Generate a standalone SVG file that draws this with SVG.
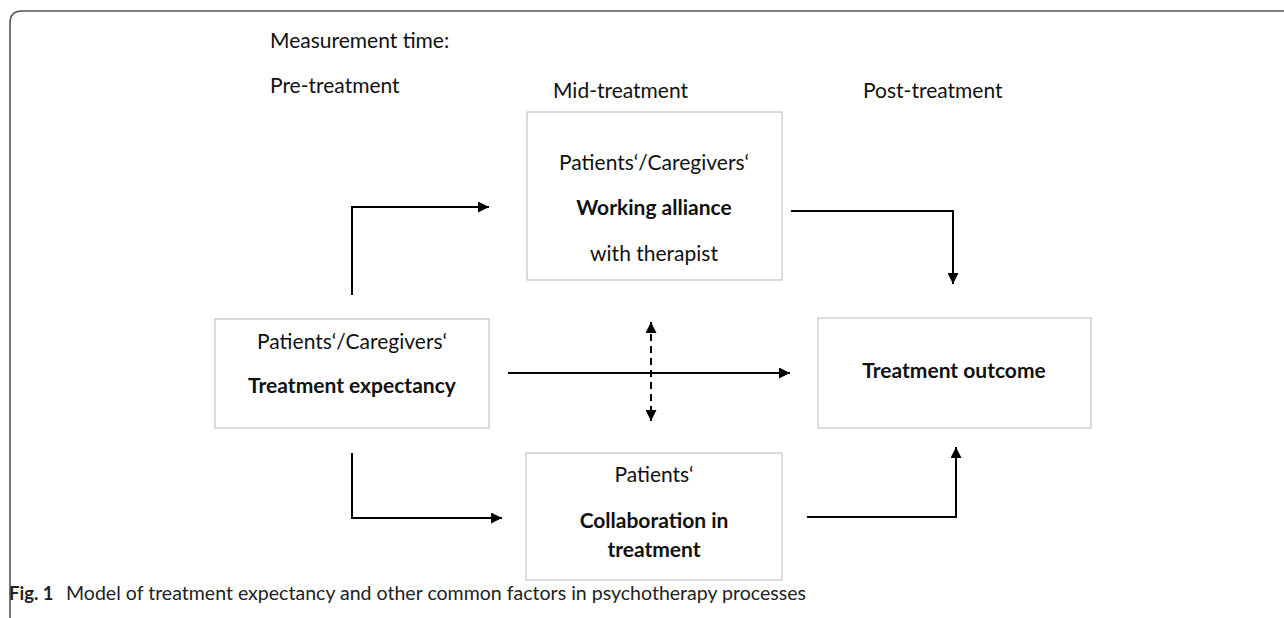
<svg xmlns="http://www.w3.org/2000/svg" width="1284" height="618" viewBox="0 0 1284 618">
<defs>
<style>
.t{font-family:Lato,"Open Sans","Liberation Sans",sans-serif;font-size:21px;fill:#111}
.b{font-weight:bold}
.c{text-anchor:middle}
.box{fill:#fff;stroke:#c8c8c8;stroke-width:1.3}
.ln{fill:none;stroke:#000;stroke-width:2}
.cap{font-family:Lato,"Open Sans","Liberation Sans",sans-serif;font-size:18.5px;fill:#222}
</style>
<marker id="ah" viewBox="0 0 10 10" refX="10" refY="5" markerWidth="5.5" markerHeight="5.5" orient="auto-start-reverse" markerUnits="strokeWidth">
<path d="M0,0 L10,5 L0,10 z" fill="#000"/>
</marker>
</defs>
<rect width="1284" height="618" fill="#fff"/>
<path d="M10,618 V23 Q10,11 22,11 H1284" fill="none" stroke="#555" stroke-width="1.6"/>
<g id="header">
<text class="t" x="270" y="48">Measurement time:</text>
<text class="t" x="270" y="93">Pre-treatment</text>
<text class="t" x="553" y="98">Mid-treatment</text>
<text class="t" x="863" y="98">Post-treatment</text>
</g>
<g id="alliance">
<rect class="box" x="527" y="112" width="255" height="168"/>
<text class="t c" x="654" y="170">Patients‘/Caregivers‘</text>
<text class="t b c" x="654" y="215">Working alliance</text>
<text class="t c" x="654" y="261">with therapist</text>
</g>
<g id="expectancy">
<rect class="box" x="215" y="319" width="274" height="109"/>
<text class="t c" x="352" y="349">Patients‘/Caregivers‘</text>
<text class="t b c" x="352" y="393">Treatment expectancy</text>
</g>
<g id="outcome">
<rect class="box" x="818" y="318" width="273" height="110"/>
<text class="t b c" x="954" y="378">Treatment outcome</text>
</g>
<g id="collaboration">
<rect class="box" x="526" y="453" width="256" height="127"/>
<text class="t c" x="654" y="482">Patients‘</text>
<text class="t b c" x="654" y="528">Collaboration in</text>
<text class="t b c" x="654" y="557">treatment</text>
</g>
<g id="connectors">
<path class="ln" d="M352,295 V207 H489" marker-end="url(#ah)"/>
<path class="ln" d="M791,211 H953 V284" marker-end="url(#ah)"/>
<path class="ln" d="M508,373 H790" marker-end="url(#ah)"/>
<path class="ln" d="M651,322 V421" stroke-dasharray="7,5" marker-start="url(#ah)" marker-end="url(#ah)"/>
<path class="ln" d="M352,453 V518 H502" marker-end="url(#ah)"/>
<path class="ln" d="M807,517 H956 V447" marker-end="url(#ah)"/>
</g>
<g id="caption">
<text class="cap b" x="9" y="600">Fig. 1</text>
<text class="cap" x="66" y="600" textLength="740" lengthAdjust="spacingAndGlyphs">Model of treatment expectancy and other common factors in psychotherapy processes</text>
</g>
</svg>
